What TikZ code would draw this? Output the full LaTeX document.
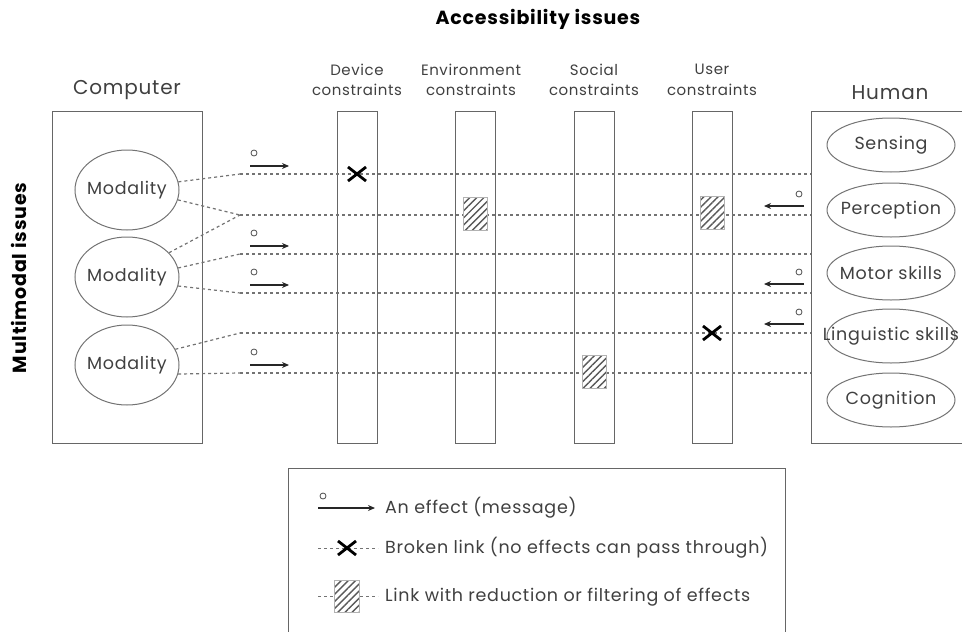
\documentclass[tikz,border=0pt]{standalone}
\usepackage{fontspec}
\setmainfont[LetterSpace=4]{Poppins}
\usetikzlibrary{shapes.geometric,arrows.meta,patterns.meta}
\begin{document}
\begin{tikzpicture}[x=1pt,y=-1pt,
  box/.style={draw=black!60,line width=1pt},
  bar/.style={box,minimum width=40pt,minimum height=332pt,inner sep=0pt},
  ell/.style={ellipse,draw=black!55,line width=1pt,minimum width=104pt,minimum height=80pt,inner sep=0pt},
  hell/.style={ellipse,draw=black!55,line width=1pt,minimum width=128pt,minimum height=54pt,inner sep=0pt},
  etxt/.style={text=black!75,font=\fontsize{17.5}{21}\selectfont,inner sep=0pt},
  link/.style={draw=black!55,line width=1.2pt,dash pattern=on 3pt off 3pt},
  eff/.style={-{Stealth[length=7pt,width=6pt]},line width=1.1pt,draw=black!85},
  dotc/.style={circle,draw=black!70,line width=0.8pt,minimum size=6pt,inner sep=0pt},
  cross/.style={line width=2.8pt,draw=black},
  hatch/.style={draw=black!30,line width=0.8pt,minimum width=24pt,minimum height=33pt,inner sep=0pt,
    preaction={fill=white},pattern={Lines[angle=45,distance=5pt,line width=1.4pt]},pattern color=black!65},
  head/.style={text=black!75,font=\fontsize{20}{24}\selectfont},
  clbl/.style={text=black!75,align=center,font=\fontsize{15}{20.5}\selectfont},
  leg/.style={text=black!75,anchor=west,font=\fontsize{17.5}{21}\selectfont,inner sep=0pt}
]
\useasboundingbox (0,0) rectangle (962,632);

% titles
\node[font=\bfseries\fontsize{19}{23}\selectfont] (title) at (538,19) {Accessibility issues};
\node[font=\bfseries\fontsize{19}{23}\selectfont,rotate=90] (mm) at (19,278) {Multimodal issues};
\node[head] (comptxt) at (127,90) {Computer};
\node[head] (humtxt) at (890,93) {Human};

% computer box
\node[box,minimum width=150pt,minimum height=332pt,inner sep=0pt] (comp) at (127,277) {};
\node[ell,label={[etxt]center:Modality}] (m1) at (127,190) {};
\node[ell,label={[etxt]center:Modality}] (m2) at (127,277) {};
\node[ell,label={[etxt]center:Modality}] (m3) at (127,365) {};

% human box (open on the right)
\draw[box] (962,111) -- (811,111) -- (811,443) -- (962,443);
\node[hell,label={[etxt]center:Sensing}] (sen) at (891,145) {};
\node[hell,label={[etxt]center:Perception}] (per) at (891,210) {};
\node[hell,label={[etxt]center:Motor skills}] (mot) at (891,273) {};
\node[hell,label={[etxt]center:Linguistic skills}] (lin) at (891,336) {};
\node[hell,label={[etxt]center:Cognition}] (cog) at (891,400) {};

% constraint bars
\node[bar] (dev) at (357,277) {};
\node[bar] (env) at (475,277) {};
\node[bar] (soc) at (594,277) {};
\node[bar] (usr) at (712,277) {};
\node[clbl] (devl) at (357,80) {Device\\constraints};
\node[clbl] (envl) at (471,80) {Environment\\constraints};
\node[clbl] (socl) at (594,80) {Social\\constraints};
\node[clbl] (usrl) at (712,80) {User\\constraints};

% link endpoints
\foreach \i/\y in {1/174,2/215,3/254,4/293,5/333,6/373}{
  \coordinate (L\i) at (240,\y);
  \coordinate (R\i) at (811,\y);
}
\foreach \i in {1,...,6}{ \draw[link] (L\i) -- (R\i); }

% modality links
\draw[link] (m1.9) -- (L1);
\draw[link] (m1.-11) -- (L2);
\draw[link] (m2.30) -- (L2);
\draw[link] (m2.10) -- (L3);
\draw[link] (m2.-10) -- (L4);
\draw[link] (m3.18) -- (L5);
\draw[link] (m3.-10) -- (L6);

% effects from computer
\foreach \y in {174,254,293,373}{
  \coordinate (ea) at (250,\y-8);
  \coordinate (eb) at (289,\y-8);
  \draw[eff] (ea) -- (eb);
  \node[dotc] at (254,\y-21) {};
}
% effects from human
\foreach \y in {215,293,333}{
  \coordinate (ha) at (804,\y-9);
  \coordinate (hb) at (764,\y-9);
  \draw[eff] (ha) -- (hb);
  \node[dotc] at (799,\y-21) {};
}

% broken links
\coordinate (x1) at (357,174);
\coordinate (x2) at (712,333);
\foreach \c in {x1,x2}{
  \draw[cross] ([shift={(-9,-7)}]\c) -- ([shift={(9,7)}]\c);
  \draw[cross] ([shift={(-9,7)}]\c) -- ([shift={(9,-7)}]\c);
}

% filtered links
\node[hatch] (h1) at (475,214) {};
\node[hatch] (h2) at (712,213) {};
\node[hatch] (h3) at (594,372) {};

% legend
\draw[box] (288,640) -- (288,468) -- (785,468) -- (785,640);
\coordinate (la) at (318,508);
\coordinate (lb) at (375,508);
\draw[eff] (la) -- (lb);
\node[dotc] at (323,496) {};
\node[leg] (t1) at (385,508) {An effect (message)};

\coordinate (lc) at (318,548);
\coordinate (ld) at (378,548);
\draw[link,line width=1pt] (lc) -- (ld);
\coordinate (x3) at (347,548);
\draw[cross] ([shift={(-9,-7)}]x3) -- ([shift={(9,7)}]x3);
\draw[cross] ([shift={(-9,7)}]x3) -- ([shift={(9,-7)}]x3);
\node[leg] (t2) at (385,548) {Broken link (no effects can pass through)};

\coordinate (le) at (318,596);
\coordinate (lf) at (378,596);
\draw[link,line width=1pt] (le) -- (lf);
\node[hatch,minimum width=25pt,minimum height=32pt] (h4) at (347,596) {};
\node[leg] (t3) at (385,597) {Link with reduction or filtering of effects};
\end{tikzpicture}
\end{document}
